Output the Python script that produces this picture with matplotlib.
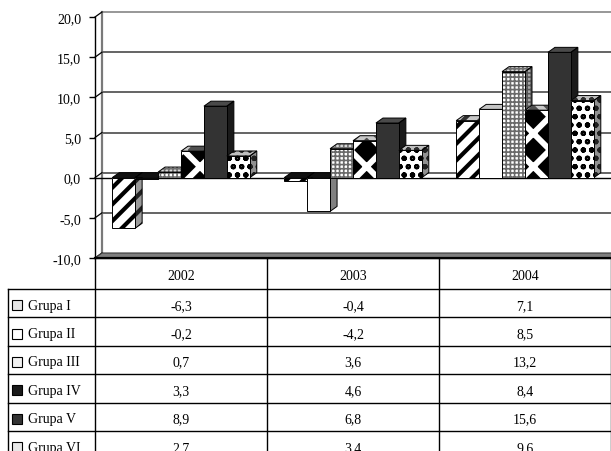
import matplotlib
matplotlib.use("Agg")
import matplotlib.pyplot as plt
from matplotlib.patches import Polygon, Rectangle
from matplotlib.ticker import FuncFormatter

# ---------------- data ----------------
years = ["2002", "2003", "2004"]
groups = ["Grupa I", "Grupa II", "Grupa III", "Grupa IV", "Grupa V", "Grupa VI"]
grupa_1 = [-6.3, -0.4, 7.1]
grupa_2 = [-0.2, -4.2, 8.5]
grupa_3 = [0.7, 3.6, 13.2]
grupa_4 = [3.3, 4.6, 8.4]
grupa_5 = [8.9, 6.8, 15.6]
grupa_6 = [2.7, 3.4, 9.6]
y_ticks = [-10, -5, 0, 5, 10, 15, 20]

series = [grupa_1, grupa_2, grupa_3, grupa_4, grupa_5, grupa_6]

# ---------------- styles ----------------
# (face colour, hatch colour) for front / side / top
styles = [
    dict(front=("white", "black"), side=("#9a9a9a", "#202020"), top=("#c8c8c8", "#303030"),
         hatch="//", hlw=3.0, key="#e6e6e6"),
    dict(front=("white", "black"), side=("#808080", "black"), top=("#c4c4c4", "black"),
         hatch=None, hlw=1.0, key="white"),
    dict(front=("white", "#6a6a6a"), side=("#a8a8a8", "#555555"), top=("#d8d8d8", "#707070"),
         hatch="++++", hlw=1.2, key="#f2f2f2"),
    dict(front=("black", "white"), side=("#303030", "#a0a0a0"), top=("#505050", "#c8c8c8"),
         hatch="x", hlw=4.2, key="#1a1a1a"),
    dict(front=("#333333", "black"), side=("#1a1a1a", "black"), top=("#4a4a4a", "black"),
         hatch=None, hlw=1.0, key="#333333"),
    dict(front=("white", "black"), side=("#909090", "#202020"), top=("#c0c0c0", "#303030"),
         hatch="oo", hlw=1.5, key="#e8e8e8"),
]

FS = 10
plt.rcParams["font.family"] = ["Liberation Serif", "DejaVu Serif"]
plt.rcParams["font.size"] = FS

W, H = 611, 452
fig = plt.figure(figsize=(W / 100, H / 100), dpi=100)
fig.patch.set_facecolor("white")

# ---------------- main 3D-like chart ----------------
ax = fig.add_axes([95 / W, (H - 259) / H, 516 / W, 241 / H])
ax.set_xlim(0, 3)
ax.set_ylim(-10, 20)
ax.patch.set_alpha(0)
for s in ["top", "right", "bottom"]:
    ax.spines[s].set_visible(False)
ax.spines["left"].set_linewidth(1.0)
ax.spines["left"].set_zorder(10)
ax.set_xticks([])
ax.set_yticks(y_ticks)
ax.yaxis.set_major_formatter(FuncFormatter(lambda v, p: f"{v:.1f}".replace(".", ",")))
ax.tick_params(axis="y", direction="out", length=4, width=1, pad=6, labelsize=FS)

DX = 7 * 3 / 516   # depth offset in data units
DY = 5 * 30 / 241
XR = 3.05

# back wall gridlines
for v in y_ticks[1:]:
    col = "#7a7a7a" if v == y_ticks[-1] else "#3a3a3a"
    ax.plot([DX, XR + DX], [v + DY, v + DY], color=col, lw=1.1, clip_on=False, zorder=1)
# side wall lines
for v in y_ticks:
    ax.plot([0, DX], [v, v + DY], color="black", lw=0.9, clip_on=False, zorder=1.2)
ax.plot([DX, DX], [-10 + DY, 20 + DY], color="#7a7a7a", lw=1.6, clip_on=False, zorder=1.1)

# floor
ax.add_patch(Polygon([(0, -10), (XR, -10), (XR + DX, -10 + DY), (DX, -10 + DY)],
                     closed=True, facecolor="#7f7f7f", edgecolor="#3a3a3a", lw=0.8,
                     clip_on=False, zorder=1.5))
ax.plot([0, XR], [-10, -10], color="black", lw=1.6, clip_on=False, zorder=1.6)
# zero plane front edge
ax.plot([0, XR], [0, 0], color="black", lw=1.0, clip_on=False, zorder=2)


def face(pts, colors, hatch, hlw, z):
    fc, hc = colors
    plt.rcParams["hatch.linewidth"] = hlw
    p = Polygon(pts, closed=True, facecolor=fc, edgecolor=hc, lw=0,
                hatch=hatch, clip_on=False, zorder=z)
    try:
        p.set_hatch_linewidth(hlw)
    except AttributeError:
        pass
    ax.add_patch(p)
    ax.add_patch(Polygon(pts, closed=True, fill=False, edgecolor="black", lw=0.7,
                         clip_on=False, zorder=z + 0.01))


BW = 0.8 / len(series)
for j in range(len(years)):
    c = j + 0.5
    for i, vals in enumerate(series):
        st = styles[i]
        v = vals[j]
        x0 = c - 0.4 + i * BW
        x1 = x0 + BW
        lo, hi = min(0, v), max(0, v)
        z = 3 + i * 0.3
        face([(x1, lo), (x1 + DX, lo + DY), (x1 + DX, hi + DY), (x1, hi)],
             st["side"], st["hatch"], st["hlw"], z)
        top_pts = [(x0, hi), (x1, hi), (x1 + DX, hi + DY), (x0 + DX, hi + DY)]
        if v < 0:
            face(top_pts, ("#111111", "#111111"), None, 1.0, z)
        else:
            face(top_pts, st["top"], st["hatch"], st["hlw"], z)
        face([(x0, lo), (x1, lo), (x1, hi), (x0, hi)], st["front"], st["hatch"], st["hlw"], z + 0.1)
plt.rcParams["hatch.linewidth"] = 1.0

# ---------------- data table ----------------
label_w, col_w, head_h, row_h = 87, 172, 31, 28.4
tot_w = label_w + col_w * 3 + 4
tot_h = head_h + row_h * len(groups)
tax = fig.add_axes([8 / W, (H - 259 - tot_h) / H, tot_w / W, tot_h / H])
tax.axis("off")
tax.set_xlim(0, tot_w)
tax.set_ylim(tot_h, 0)

lk = dict(color="black", lw=1.0, clip_on=False, solid_capstyle="projecting")
for k in range(len(years) + 1):
    xk = label_w + k * col_w
    tax.plot([xk, xk], [0, tot_h], **lk)
tax.plot([0, 0], [head_h, tot_h], **lk)
tax.plot([label_w, tot_w], [0, 0], **lk)
for r in range(len(groups) + 1):
    yr_ = head_h + r * row_h
    tax.plot([0, tot_w], [yr_, yr_], **lk)

for k, yr in enumerate(years):
    tax.text(label_w + (k + 0.5) * col_w, head_h / 2 + 1.5, yr, ha="center", va="center",
             fontsize=FS)
for r, g in enumerate(groups):
    yc = head_h + (r + 0.5) * row_h + 2
    tax.text(20, yc, g, ha="left", va="center", fontsize=FS)
    tax.add_patch(Rectangle((4, yc - 5), 10, 10, facecolor=styles[r]["key"],
                            edgecolor="black", lw=0.8, clip_on=False, zorder=5))
    for k in range(len(years)):
        tax.text(label_w + (k + 0.5) * col_w, yc, f"{series[r][k]:.1f}".replace(".", ","),
                 ha="center", va="center", fontsize=FS)

fig.savefig("out.png", dpi=100)
